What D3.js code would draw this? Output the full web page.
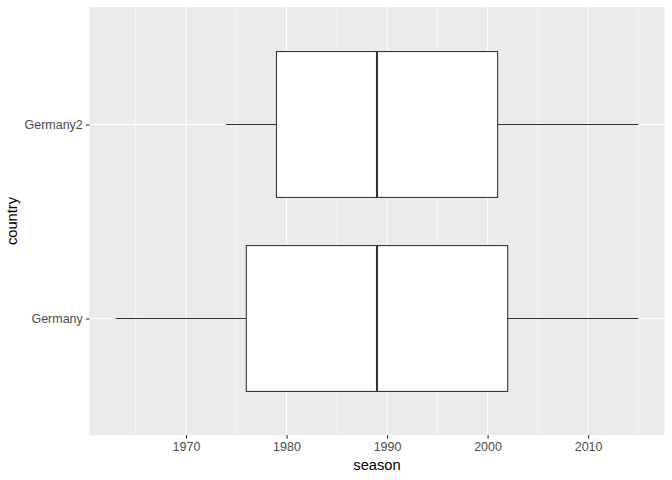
<!DOCTYPE html>
<html><head><meta charset="utf-8">
<script src="https://cdn.jsdelivr.net/npm/d3@7"></script>
<style>body{margin:0;background:#fff}svg{display:block}text{font-family:"Liberation Sans",Arial,sans-serif}</style>
</head><body>
<script>
const countries = ["Germany", "Germany2"];
const whiskerLow = [1963, 1974];
const q1 = [1976, 1979];
const medians = [1989, 1989];
const q3 = [2002, 2001];
const whiskerHigh = [2015, 2015];
const xTicks = [1970, 1980, 1990, 2000, 2010];

const W = 672, H = 480;
const m = {left: 89.5, right: 7.5, top: 7, bottom: 45};
const svg = d3.select("body").append("svg").attr("width", W).attr("height", H);

const lo = d3.min(whiskerLow), hi = d3.max(whiskerHigh), pad = (hi - lo) * 0.05;
const x = d3.scaleLinear().domain([lo - pad, hi + pad]).range([m.left, W - m.right]);
// ggplot discrete expansion: 0.6 units each side
const yPos = d3.scaleLinear().domain([0.4, countries.length + 0.6]).range([H - m.bottom, m.top]);
const yc = c => Math.round(yPos(countries.indexOf(c) + 1)) + 0.5;
const boxH = yPos(0) - yPos(0.75);

svg.append("rect").attr("x", m.left).attr("y", m.top).attr("width", W - m.right - m.left).attr("height", H - m.bottom - m.top).attr("fill", "#EBEBEB");

const g = svg.append("g");
const minor = d3.range(1965, 2020, 10).filter(v => x(v) < W - m.right);
g.selectAll(".minor").data(minor).join("line").attr("x1", d => x(d)).attr("x2", d => x(d)).attr("y1", m.top).attr("y2", H - m.bottom).attr("stroke", "#fff").attr("stroke-width", 0.55);
g.selectAll(".major").data(xTicks).join("line").attr("x1", d => x(d)).attr("x2", d => x(d)).attr("y1", m.top).attr("y2", H - m.bottom).attr("stroke", "#fff").attr("stroke-width", 1.1);
g.selectAll(".hmajor").data(countries).join("line").attr("x1", m.left).attr("x2", W - m.right).attr("y1", d => yc(d)).attr("y2", d => yc(d)).attr("stroke", "#fff").attr("stroke-width", 1.1);

const data = countries.map((c, i) => ({c, lo: whiskerLow[i], q1: q1[i], med: medians[i], q3: q3[i], hi: whiskerHigh[i]}));
const b = svg.selectAll(".box").data(data).join("g");
b.append("line").attr("x1", d => x(d.lo)).attr("x2", d => x(d.q1)).attr("y1", d => yc(d.c)).attr("y2", d => yc(d.c)).attr("stroke", "#333").attr("stroke-width", 1.07);
b.append("line").attr("x1", d => x(d.q3)).attr("x2", d => x(d.hi)).attr("y1", d => yc(d.c)).attr("y2", d => yc(d.c)).attr("stroke", "#333").attr("stroke-width", 1.07);
b.append("rect").attr("x", d => x(d.q1)).attr("width", d => x(d.q3) - x(d.q1)).attr("y", d => yc(d.c) - boxH / 2).attr("height", boxH).attr("fill", "#fff").attr("stroke", "#333").attr("stroke-width", 1.07);
b.append("line").attr("x1", d => x(d.med)).attr("x2", d => x(d.med)).attr("y1", d => yc(d.c) - boxH / 2).attr("y2", d => yc(d.c) + boxH / 2).attr("stroke", "#333").attr("stroke-width", 2.1);

const xa = svg.append("g").attr("transform", `translate(0,${H - m.bottom})`).call(d3.axisBottom(x).tickValues(xTicks).tickFormat(d3.format("d")).tickSize(3.7).tickPadding(3));
xa.select(".domain").remove();
xa.selectAll("line").attr("stroke", "#333").attr("stroke-width", 1.07);
xa.selectAll("text").attr("fill", "#4D4D4D").style("font-size", "12.5px");

const ya = svg.append("g").attr("transform", `translate(${m.left},0)`)
  .call(d3.axisLeft(d3.scaleOrdinal().domain(countries).range(countries.map(c => yc(c)))).tickSize(3.7).tickPadding(3));
ya.select(".domain").remove();
ya.selectAll("line").attr("stroke", "#333").attr("stroke-width", 1.07);
ya.selectAll("text").attr("fill", "#4D4D4D").style("font-size", "12.5px");

svg.append("text").attr("x", (m.left + W - m.right) / 2).attr("y", 470).attr("text-anchor", "middle").style("font-size", "14.7px").attr("fill", "#000").text("season");
svg.append("text").attr("transform", `translate(17,${(m.top + H - m.bottom) / 2}) rotate(-90)`).attr("text-anchor", "middle").style("font-size", "14.7px").attr("fill", "#000").text("country");
</script>
</body></html>
